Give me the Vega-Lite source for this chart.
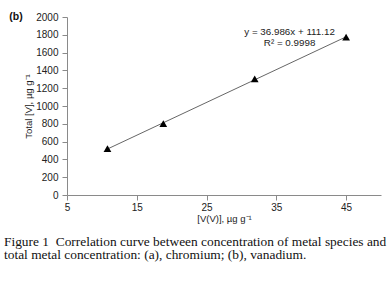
{
  "$schema": "https://vega.github.io/schema/vega-lite/v6.json",
  "width": 314,
  "height": 178,
  "autosize": {"type": "none"},
  "padding": {"left": 67, "top": 17, "right": 9, "bottom": 87},
  "background": "white",
  "config": {
    "view": {"stroke": null},
    "font": "Liberation Sans",
    "axis": {"grid": false, "domainColor": "#8a8a8a", "tickColor": "#8a8a8a", "labelColor": "#222", "titleColor": "#222", "labelFont": "Liberation Sans", "titleFont": "Liberation Sans", "labelFontSize": 10, "titleFontSize": 9.5, "titleFontWeight": "normal", "tickSize": 5, "labelOverlap": false, "labelFlush": false}
  },
  "title": {
    "text": ["Figure 1\u00a0 Correlation curve between concentration of metal species and", "total metal concentration: (a), chromium; (b), vanadium."],
    "orient": "bottom",
    "anchor": "start",
    "frame": "group",
    "dx": -63,
    "offset": 12,
    "font": "Liberation Serif",
    "fontSize": 13.4,
    "fontWeight": "normal",
    "color": "#111",
    "lineHeight": 13.5
  },
  "datasets": {
    "points": [
      {"x": 10.8, "y": 520},
      {"x": 18.8, "y": 802},
      {"x": 31.9, "y": 1305},
      {"x": 45, "y": 1773}
    ],
    "notes": [
      {"x": 36.9, "y": 1826, "label": "y = 36.986x + 111.12"},
      {"x": 36.9, "y": 1713, "label": "R² = 0.9998"}
    ],
    "panel": [
      {"x": -2.3, "y": 2000, "label": "(b)"}
    ]
  },
  "layer": [
    {
      "data": {"name": "points"},
      "transform": [{"regression": "y", "on": "x", "method": "linear"}],
      "mark": {"type": "line", "color": "#555", "strokeWidth": 0.9},
      "encoding": {
        "x": {"field": "x", "type": "quantitative", "scale": {"domain": [5, 50], "nice": false, "zero": false},
              "axis": {"values": [5, 15, 25, 35, 45], "tickCount": 5, "format": "d", "title": "[V(V)], µg g⁻¹", "titlePadding": 1, "labelPadding": 2}},
        "y": {"field": "y", "type": "quantitative", "scale": {"domain": [0, 2000], "nice": false},
              "axis": {"values": [0, 200, 400, 600, 800, 1000, 1200, 1400, 1600, 1800, 2000], "tickCount": 11, "format": "d", "title": "Total [V], µg g⁻¹", "titlePadding": 2, "labelPadding": 4}}
      }
    },
    {
      "data": {"name": "points"},
      "mark": {"type": "point", "shape": "triangle-up", "filled": true, "color": "#000", "size": 60, "opacity": 1},
      "encoding": {
        "x": {"field": "x", "type": "quantitative"},
        "y": {"field": "y", "type": "quantitative"}
      }
    },
    {
      "data": {"name": "notes"},
      "mark": {"type": "text", "fontSize": 9.8, "color": "#222", "font": "Liberation Sans"},
      "encoding": {
        "x": {"field": "x", "type": "quantitative"},
        "y": {"field": "y", "type": "quantitative"},
        "text": {"field": "label"}
      }
    },
    {
      "data": {"name": "panel"},
      "mark": {"type": "text", "fontSize": 10.5, "fontWeight": "bold", "color": "#111", "font": "Liberation Sans"},
      "encoding": {
        "x": {"field": "x", "type": "quantitative"},
        "y": {"field": "y", "type": "quantitative"},
        "text": {"field": "label"}
      }
    }
  ]
}
